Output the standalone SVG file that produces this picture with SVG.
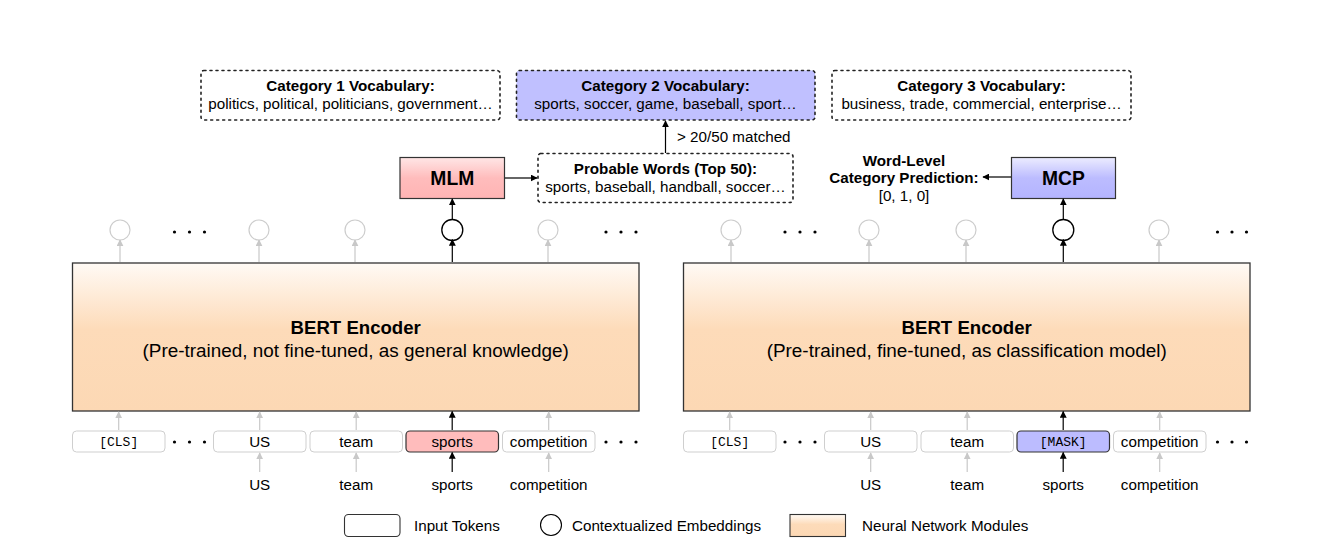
<svg xmlns="http://www.w3.org/2000/svg" width="1328" height="559" viewBox="0 0 1328 559">
<style>
text{font-family:"Liberation Sans",Arial,sans-serif;fill:#000}
.t14{font-size:15.2px}
.b14{font-size:15.2px;font-weight:bold}
.mono{font-family:"Liberation Mono","Courier New",monospace;font-size:13px}
.big{font-size:18.9px}
.bigb{font-size:18.6px;font-weight:bold}
.mod{font-size:19.3px;font-weight:bold}
.tok{fill:#fff;stroke:#cfcfcf;stroke-width:1}
.dash{fill:#fff;stroke:#222;stroke-width:1.6;stroke-dasharray:2 4;stroke-linecap:round}
.gc{fill:#fff;stroke:#cdcdcd;stroke-width:1.2}
.bc{fill:#fff;stroke:#000;stroke-width:1.3}
.ga{stroke:#c8c8c8;stroke-width:1.2;fill:none}
.ba{stroke:#000;stroke-width:1.2;fill:none}
</style>
<defs>
<linearGradient id="peach" x1="0" y1="0" x2="0" y2="1">
<stop offset="0" stop-color="#fffaf5"/>
<stop offset="0.45" stop-color="#fddbb9"/>
<stop offset="1" stop-color="#fcd8b4"/>
</linearGradient>
<linearGradient id="pink" x1="0" y1="0" x2="0" y2="1">
<stop offset="0" stop-color="#ffe6e6"/>
<stop offset="0.5" stop-color="#ffbcbc"/>
<stop offset="1" stop-color="#ffb4b4"/>
</linearGradient>
<linearGradient id="blue" x1="0" y1="0" x2="0" y2="1">
<stop offset="0" stop-color="#ececff"/>
<stop offset="0.5" stop-color="#bcbcff"/>
<stop offset="1" stop-color="#b4b4ff"/>
</linearGradient>
<marker id="ah" viewBox="0 0 10 10" refX="9" refY="5" markerWidth="7" markerHeight="7" markerUnits="userSpaceOnUse" orient="auto">
<path d="M0,0 L10,5 L0,10 z" fill="#000"/>
</marker>
<marker id="ahg" viewBox="0 0 10 10" refX="9" refY="5" markerWidth="7" markerHeight="7" markerUnits="userSpaceOnUse" orient="auto">
<path d="M0,0 L10,5 L0,10 z" fill="#c8c8c8"/>
</marker>
</defs>

<!-- Category vocab boxes -->
<g id="cat1">
<rect class="dash" x="201" y="70.5" width="299" height="49.5" rx="3"/>
<text class="b14" x="350.5" y="91" text-anchor="middle">Category 1 Vocabulary:</text>
<text class="t14" x="350.5" y="109" text-anchor="middle">politics, political, politicians, government…</text>
</g>
<g id="cat2">
<rect class="dash" x="516.5" y="70.5" width="298.5" height="49.5" rx="3" style="fill:#c0c0ff"/>
<text class="b14" x="665.5" y="91" text-anchor="middle">Category 2 Vocabulary:</text>
<text class="t14" x="665.5" y="109" text-anchor="middle">sports, soccer, game, baseball, sport…</text>
</g>
<g id="cat3">
<rect class="dash" x="832" y="70.5" width="299" height="49.5" rx="3"/>
<text class="b14" x="981.5" y="91" text-anchor="middle">Category 3 Vocabulary:</text>
<text class="t14" x="981.5" y="109" text-anchor="middle">business, trade, commercial, enterprise…</text>
</g>

<!-- Probable words -->
<g id="probable">
<rect class="dash" x="538" y="153.5" width="255" height="49" rx="3"/>
<text class="b14" x="665.5" y="174" text-anchor="middle">Probable Words (Top 50):</text>
<text class="t14" x="665.5" y="192" text-anchor="middle">sports, baseball, handball, soccer…</text>
</g>
<text class="t14" x="677" y="142">&gt; 20/50 matched</text>

<!-- MLM / MCP -->
<g id="mlm">
<rect x="400" y="157.5" width="104.5" height="41" fill="url(#pink)" stroke="#333" stroke-width="1.2"/>
<text class="mod" x="452.3" y="185" text-anchor="middle">MLM</text>
</g>
<g id="mcp">
<rect x="1011.5" y="157.5" width="104" height="41" fill="url(#blue)" stroke="#333" stroke-width="1.2"/>
<text class="mod" x="1063.5" y="185" text-anchor="middle">MCP</text>
</g>
<g id="wordlevel">
<text class="b14" x="904" y="166" text-anchor="middle">Word-Level</text>
<text class="b14" x="904" y="183" text-anchor="middle">Category Prediction:</text>
<text class="t14" x="904" y="201" text-anchor="middle">[0, 1, 0]</text>
</g>

<!-- BERT encoders -->
<g id="bert1">
<rect x="72.5" y="263" width="566.5" height="148" fill="url(#peach)" stroke="#333" stroke-width="1.3"/>
<text class="bigb" x="355.7" y="334" text-anchor="middle">BERT Encoder</text>
<text class="big" x="355.7" y="357" text-anchor="middle">(Pre-trained, not fine-tuned, as general knowledge)</text>
</g>
<g id="bert2">
<rect x="683.5" y="263" width="566.5" height="148" fill="url(#peach)" stroke="#333" stroke-width="1.3"/>
<text class="bigb" x="966.7" y="334" text-anchor="middle">BERT Encoder</text>
<text class="big" x="966.7" y="357" text-anchor="middle">(Pre-trained, fine-tuned, as classification model)</text>
</g>

<!-- Embedding circles -->
<g id="emb1">
<circle class="gc" cx="120" cy="230" r="10"/>
<circle class="gc" cx="259" cy="230" r="10"/>
<circle class="gc" cx="355" cy="230" r="10"/>
<circle class="bc" cx="452.3" cy="230" r="10.5"/>
<circle class="gc" cx="548" cy="230" r="10"/>
</g>
<g id="emb2">
<circle class="gc" cx="731" cy="230" r="10"/>
<circle class="gc" cx="869" cy="230" r="10"/>
<circle class="gc" cx="966" cy="230" r="10"/>
<circle class="bc" cx="1063.3" cy="230" r="10.5"/>
<circle class="gc" cx="1159" cy="230" r="10"/>
</g>

<!-- Tokens -->
<g id="tokens1">
<rect class="tok" x="72.5" y="431" width="92.5" height="21" rx="4"/>
<text class="mono" x="118.7" y="446" text-anchor="middle">[CLS]</text>
<rect class="tok" x="213.5" y="431" width="92.5" height="21" rx="4"/>
<text class="t14" x="259.7" y="447" text-anchor="middle">US</text>
<rect class="tok" x="310" y="431" width="92.5" height="21" rx="4"/>
<text class="t14" x="356.2" y="447" text-anchor="middle">team</text>
<rect x="406" y="431" width="92.5" height="21" rx="4" fill="#ffbcbc" stroke="#333" stroke-width="1.2"/>
<text class="t14" x="452.2" y="447" text-anchor="middle">sports</text>
<rect class="tok" x="502.5" y="431" width="92.5" height="21" rx="4"/>
<text class="t14" x="548.7" y="447" text-anchor="middle">competition</text>
</g>
<g id="tokens2">
<rect class="tok" x="683.5" y="431" width="92.5" height="21" rx="4"/>
<text class="mono" x="729.7" y="446" text-anchor="middle">[CLS]</text>
<rect class="tok" x="824.5" y="431" width="92.5" height="21" rx="4"/>
<text class="t14" x="870.7" y="447" text-anchor="middle">US</text>
<rect class="tok" x="921" y="431" width="92.5" height="21" rx="4"/>
<text class="t14" x="967.2" y="447" text-anchor="middle">team</text>
<rect x="1017" y="431" width="92.5" height="21" rx="4" fill="#bcbcff" stroke="#333" stroke-width="1.2"/>
<text class="mono" x="1063.2" y="446" text-anchor="middle">[MASK]</text>
<rect class="tok" x="1113.5" y="431" width="92.5" height="21" rx="4"/>
<text class="t14" x="1159.7" y="447" text-anchor="middle">competition</text>
</g>

<!-- Word labels -->
<g id="words">
<text class="t14" x="259.7" y="489.5" text-anchor="middle">US</text>
<text class="t14" x="356.2" y="489.5" text-anchor="middle">team</text>
<text class="t14" x="452.2" y="489.5" text-anchor="middle">sports</text>
<text class="t14" x="548.7" y="489.5" text-anchor="middle">competition</text>
<text class="t14" x="870.7" y="489.5" text-anchor="middle">US</text>
<text class="t14" x="967.2" y="489.5" text-anchor="middle">team</text>
<text class="t14" x="1063.2" y="489.5" text-anchor="middle">sports</text>
<text class="t14" x="1159.7" y="489.5" text-anchor="middle">competition</text>
</g>

<!-- Ellipsis dots -->
<g id="dots" fill="#000">
<circle cx="174.5" cy="232" r="1.6"/><circle cx="189.5" cy="232" r="1.6"/><circle cx="204.5" cy="232" r="1.6"/>
<circle cx="606" cy="232" r="1.6"/><circle cx="621" cy="232" r="1.6"/><circle cx="636" cy="232" r="1.6"/>
<circle cx="785" cy="232" r="1.6"/><circle cx="800" cy="232" r="1.6"/><circle cx="815" cy="232" r="1.6"/>
<circle cx="1217.5" cy="232" r="1.6"/><circle cx="1232" cy="232" r="1.6"/><circle cx="1246.5" cy="232" r="1.6"/>
<circle cx="174.5" cy="442" r="1.6"/><circle cx="189.5" cy="442" r="1.6"/><circle cx="204.5" cy="442" r="1.6"/>
<circle cx="606" cy="442" r="1.6"/><circle cx="621" cy="442" r="1.6"/><circle cx="636" cy="442" r="1.6"/>
<circle cx="785" cy="442" r="1.6"/><circle cx="800" cy="442" r="1.6"/><circle cx="815" cy="442" r="1.6"/>
<circle cx="1217.5" cy="442" r="1.6"/><circle cx="1232" cy="442" r="1.6"/><circle cx="1246.5" cy="442" r="1.6"/>
</g>

<!-- Connectors -->
<g id="connectors">
<line class="ga" x1="120" y1="262" x2="120" y2="240" marker-end="url(#ahg)"/>
<line class="ga" x1="259" y1="262" x2="259" y2="240" marker-end="url(#ahg)"/>
<line class="ga" x1="355" y1="262" x2="355" y2="240" marker-end="url(#ahg)"/>
<line class="ba" x1="452.3" y1="262" x2="452.3" y2="239.5" marker-end="url(#ah)"/>
<line class="ga" x1="548" y1="262" x2="548" y2="240" marker-end="url(#ahg)"/>
<line class="ba" x1="452.3" y1="219.5" x2="452.3" y2="199" marker-end="url(#ah)"/>
<line class="ba" x1="505" y1="178" x2="537" y2="178" marker-end="url(#ah)"/>
<line class="ba" x1="665.5" y1="153" x2="665.5" y2="121" marker-end="url(#ah)"/>
<line class="ga" x1="118.7" y1="430" x2="118.7" y2="412" marker-end="url(#ahg)"/>
<line class="ga" x1="259.7" y1="430" x2="259.7" y2="412" marker-end="url(#ahg)"/>
<line class="ga" x1="356.2" y1="430" x2="356.2" y2="412" marker-end="url(#ahg)"/>
<line class="ba" x1="452.2" y1="430" x2="452.2" y2="411.5" marker-end="url(#ah)"/>
<line class="ga" x1="548.7" y1="430" x2="548.7" y2="412" marker-end="url(#ahg)"/>
<line class="ga" x1="259.7" y1="472" x2="259.7" y2="453" marker-end="url(#ahg)"/>
<line class="ga" x1="356.2" y1="472" x2="356.2" y2="453" marker-end="url(#ahg)"/>
<line class="ba" x1="452.2" y1="472" x2="452.2" y2="452.5" marker-end="url(#ah)"/>
<line class="ga" x1="548.7" y1="472" x2="548.7" y2="453" marker-end="url(#ahg)"/>
<line class="ga" x1="731" y1="262" x2="731" y2="240" marker-end="url(#ahg)"/>
<line class="ga" x1="869" y1="262" x2="869" y2="240" marker-end="url(#ahg)"/>
<line class="ga" x1="966" y1="262" x2="966" y2="240" marker-end="url(#ahg)"/>
<line class="ba" x1="1063.3" y1="262" x2="1063.3" y2="239.5" marker-end="url(#ah)"/>
<line class="ga" x1="1159" y1="262" x2="1159" y2="240" marker-end="url(#ahg)"/>
<line class="ba" x1="1063.3" y1="219.5" x2="1063.3" y2="199" marker-end="url(#ah)"/>
<line class="ba" x1="1011" y1="177" x2="983" y2="177" marker-end="url(#ah)"/>
<line class="ga" x1="729.7" y1="430" x2="729.7" y2="412" marker-end="url(#ahg)"/>
<line class="ga" x1="870.7" y1="430" x2="870.7" y2="412" marker-end="url(#ahg)"/>
<line class="ga" x1="967.2" y1="430" x2="967.2" y2="412" marker-end="url(#ahg)"/>
<line class="ba" x1="1063.2" y1="430" x2="1063.2" y2="411.5" marker-end="url(#ah)"/>
<line class="ga" x1="1159.7" y1="430" x2="1159.7" y2="412" marker-end="url(#ahg)"/>
<line class="ga" x1="870.7" y1="472" x2="870.7" y2="453" marker-end="url(#ahg)"/>
<line class="ga" x1="967.2" y1="472" x2="967.2" y2="453" marker-end="url(#ahg)"/>
<line class="ba" x1="1063.2" y1="472" x2="1063.2" y2="452.5" marker-end="url(#ah)"/>
<line class="ga" x1="1159.7" y1="472" x2="1159.7" y2="453" marker-end="url(#ahg)"/>
</g>

<!-- Legend -->
<g id="legend">
<rect x="344.5" y="514.5" width="55.5" height="22" rx="4" fill="#fff" stroke="#333" stroke-width="1.1"/>
<text class="t14" x="414" y="530.5">Input Tokens</text>
<circle cx="551" cy="525" r="10.5" fill="#fff" stroke="#000" stroke-width="1.1"/>
<text class="t14" x="572" y="530.5">Contextualized Embeddings</text>
<rect x="790" y="514.5" width="55.5" height="22" fill="url(#peach)" stroke="#333" stroke-width="1.1"/>
<text class="t14" x="862" y="530.5">Neural Network Modules</text>
</g>
</svg>
